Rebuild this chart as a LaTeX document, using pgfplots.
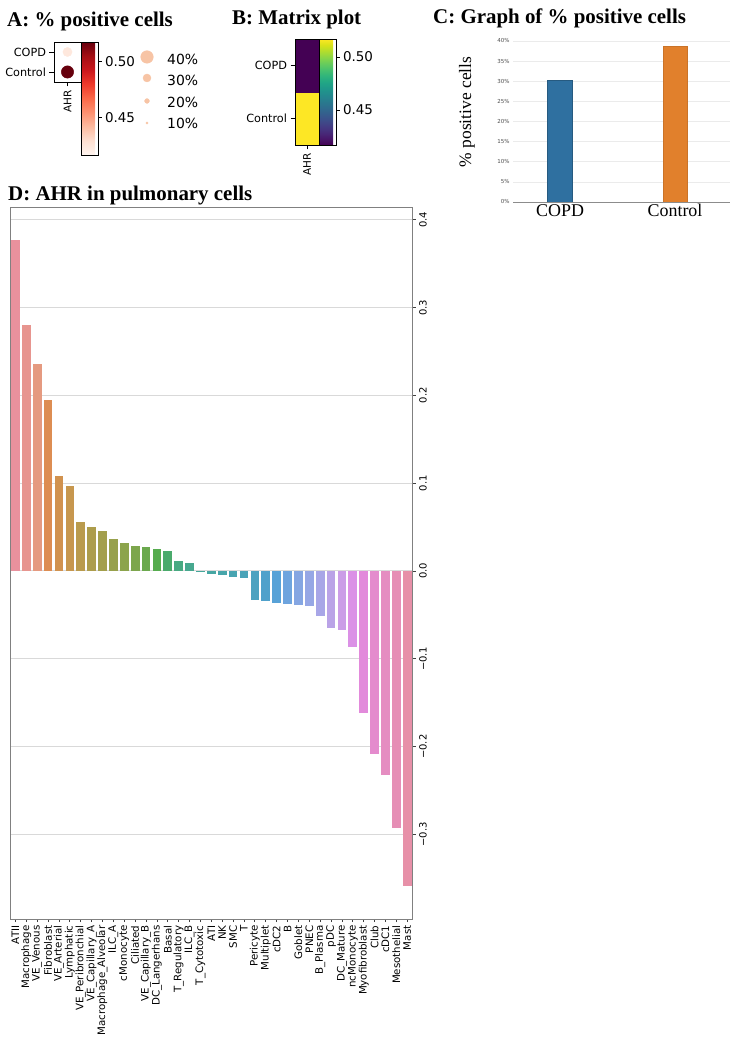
\documentclass[border=0pt]{standalone}
\usepackage{fontspec}
\setmainfont{Liberation Serif}
\setsansfont{DejaVu Sans}
\usepackage{pgfplots}
\pgfplotsset{compat=1.18}
\usepgfplotslibrary{patchplots}
\definecolor{peach}{RGB}{247,196,165}
\definecolor{copdblue}{RGB}{47,112,160}
\definecolor{ctrlorange}{RGB}{225,128,44}
\definecolor{d1}{RGB}{232,145,157}
\definecolor{d2}{RGB}{231,149,143}
\definecolor{d3}{RGB}{229,154,128}
\definecolor{d4}{RGB}{221,141,82}
\definecolor{d5}{RGB}{209,146,79}
\definecolor{d6}{RGB}{199,151,78}
\definecolor{d7}{RGB}{186,155,77}
\definecolor{d8}{RGB}{173,157,76}
\definecolor{d9}{RGB}{163,159,76}
\definecolor{d10}{RGB}{152,161,76}
\definecolor{d11}{RGB}{140,164,76}
\definecolor{d12}{RGB}{125,166,77}
\definecolor{d13}{RGB}{107,169,78}
\definecolor{d14}{RGB}{86,172,79}
\definecolor{d15}{RGB}{74,170,108}
\definecolor{d16}{RGB}{72,169,130}
\definecolor{d17}{RGB}{71,168,143}
\definecolor{d18}{RGB}{70,167,155}
\definecolor{d19}{RGB}{70,166,163}
\definecolor{d20}{RGB}{71,165,170}
\definecolor{d21}{RGB}{72,164,177}
\definecolor{d22}{RGB}{74,163,184}
\definecolor{d23}{RGB}{76,162,192}
\definecolor{d24}{RGB}{80,161,203}
\definecolor{d25}{RGB}{88,162,215}
\definecolor{d26}{RGB}{110,164,222}
\definecolor{d27}{RGB}{133,166,226}
\definecolor{d28}{RGB}{150,167,229}
\definecolor{d29}{RGB}{168,166,231}
\definecolor{d30}{RGB}{186,163,231}
\definecolor{d31}{RGB}{203,157,231}
\definecolor{d32}{RGB}{219,145,230}
\definecolor{d33}{RGB}{226,138,219}
\definecolor{d34}{RGB}{228,139,205}
\definecolor{d35}{RGB}{229,141,193}
\definecolor{d36}{RGB}{230,142,181}
\definecolor{d37}{RGB}{231,144,168}
\pgfplotsset{
  dbar/.style={ybar, bar width=0.8, bar shift=0pt, fill=#1, draw=none},
}
\begin{document}
\begin{tikzpicture}
\path[use as bounding box] (0,0) rectangle (743bp,1050bp);
% ---- titles ----
\node[anchor=base west, inner sep=0pt, font=\fontsize{21}{25}\selectfont\bfseries] at (7bp,1023bp) {A: \% positive cells};
\node[anchor=base west, inner sep=0pt, font=\fontsize{21}{25}\selectfont\bfseries] at (232bp,1025bp) {B: Matrix plot};
\node[anchor=base west, inner sep=0pt, font=\fontsize{21}{25}\selectfont\bfseries] at (433bp,1026bp) {C: Graph of \% positive cells};
\node[anchor=base west, inner sep=0pt, font=\fontsize{21}{25}\selectfont\bfseries] at (8bp,849bp) {D: AHR in pulmonary cells};

% ---- Panel A: dot plot ----
\begin{axis}[
  at={(54bp,968bp)}, anchor=south west, scale only axis,
  width=27bp, height=40bp,
  xmin=-0.5, xmax=0.5, ymin=-0.5, ymax=1.5,
  xtick={0}, xticklabels={AHR},
  ytick={0,1}, yticklabels={Control,COPD},
  xtick pos=bottom, ytick pos=left,
  tick align=outside, major tick length=4.5bp,
  tick style={black, line width=0.7bp},
  axis line style={black, line width=0.8bp},
  xticklabel style={rotate=90, anchor=east, font=\fontsize{10.5}{11}\sffamily},
  yticklabel style={font=\fontsize{11.3}{12}\sffamily},
  colormap={reds}{rgb255=(255,245,240) rgb255=(254,224,210) rgb255=(252,187,161) rgb255=(252,146,114) rgb255=(251,106,74) rgb255=(239,59,44) rgb255=(203,24,29) rgb255=(165,15,21) rgb255=(103,0,13)},
  point meta min=0.417, point meta max=0.517,
  colorbar,
  colorbar shift/.style={},
  colorbar style={at={(parent axis.north east)}, anchor=north west, xshift=0pt,
     scale only axis, width=17bp, height=113bp,
     ytick={0.45,0.50}, yticklabels={0.45,0.50},
     ytick pos=right, yticklabel pos=right,
     yticklabel style={font=\fontsize{13.5}{15}\sffamily},
     tick align=outside, major tick length=3.5bp,
     tick style={black, line width=0.7bp},
     axis line style={black, line width=0.8bp}},
]
\addplot[scatter, only marks, mark=*, mark size=4.6bp, point meta=explicit,
  scatter/use mapped color={draw=mapped color, fill=mapped color}] coordinates {(0,1) [0.425]};
\addplot[scatter, only marks, mark=*, mark size=6.2bp, point meta=explicit,
  scatter/use mapped color={draw=mapped color, fill=mapped color}] coordinates {(0,0) [0.517]};
\end{axis}

% size legend for A
\begin{axis}[
  at={(142bp,920bp)}, anchor=south west, scale only axis,
  width=10bp, height=85bp, xmin=-1, xmax=1, ymin=-130, ymax=-45,
  hide axis, clip=false]
\addplot[only marks, mark=*, mark size=6.3bp, color=peach] coordinates {(0,-57)};
\addplot[only marks, mark=*, mark size=4bp, color=peach] coordinates {(0,-78)};
\addplot[only marks, mark=*, mark size=2.4bp, color=peach] coordinates {(0,-101)};
\addplot[only marks, mark=*, mark size=1.1bp, color=peach] coordinates {(0,-123)};
\node[anchor=west, inner sep=0pt, font=\fontsize{14}{15}\sffamily] at (axis cs:0,-59) [xshift=20bp] {40\%};
\node[anchor=west, inner sep=0pt, font=\fontsize{14}{15}\sffamily] at (axis cs:0,-80) [xshift=20bp] {30\%};
\node[anchor=west, inner sep=0pt, font=\fontsize{14}{15}\sffamily] at (axis cs:0,-102) [xshift=20bp] {20\%};
\node[anchor=west, inner sep=0pt, font=\fontsize{14}{15}\sffamily] at (axis cs:0,-123) [xshift=20bp] {10\%};
\end{axis}

% ---- Panel B: matrix plot ----
\begin{axis}[
  at={(295bp,905bp)}, anchor=south west, scale only axis,
  width=24bp, height=106bp,
  xmin=-0.5, xmax=0.5, ymin=-0.5, ymax=1.5,
  xtick={0}, xticklabels={AHR},
  ytick={0,1}, yticklabels={Control,COPD},
  xtick pos=bottom, ytick pos=left,
  tick align=outside, major tick length=4.5bp,
  tick style={black, line width=0.7bp},
  axis line style={black, line width=0.8bp},
  axis on top,
  xticklabel style={rotate=90, anchor=east, font=\fontsize{10.5}{11}\sffamily},
  yticklabel style={font=\fontsize{11.3}{12}\sffamily},
  colormap/viridis,
  point meta min=0.417, point meta max=0.517,
  colorbar,
  colorbar shift/.style={},
  colorbar style={at={(parent axis.north east)}, anchor=north west, xshift=0pt,
     scale only axis, width=17bp, height=106bp,
     ytick={0.45,0.50}, yticklabels={0.45,0.50},
     ytick pos=right, yticklabel pos=right,
     yticklabel style={font=\fontsize{13.5}{15}\sffamily},
     tick align=outside, major tick length=3.5bp,
     tick style={black, line width=0.7bp},
     axis line style={black, line width=0.8bp}},
]
\addplot[patch, patch type=rectangle, shader=flat, point meta=explicit] coordinates {
  (-0.5,-0.5) [0.517] (0.5,-0.5) [0.517] (0.5,0.5) [0.517] (-0.5,0.5) [0.517]
  (-0.5,0.5) [0.417] (0.5,0.5) [0.417] (0.5,1.5) [0.417] (-0.5,1.5) [0.417]
};
\end{axis}

% ---- Panel C: bar graph ----
\begin{axis}[
  at={(513bp,848bp)}, anchor=south west, scale only axis,
  width=217bp, height=163bp,
  xmin=-0.409, xmax=1.478, ymin=0, ymax=40.5,
  xtick={0,1}, xticklabels={COPD,Control},
  ytick={0,5,10,15,20,25,30,35,40},
  yticklabels={0\%,5\%,10\%,15\%,20\%,25\%,30\%,35\%,40\%},
  axis x line*=bottom, axis y line*=left,
  y axis line style={draw=none},
  x axis line style={draw=black!45, line width=0.8bp},
  major tick length=0pt,
  ymajorgrids, grid style={color=black!8, line width=0.6bp},
  xticklabel style={font=\fontsize{18}{20}\selectfont\rmfamily, yshift=1bp},
  yticklabel style={font=\fontsize{5.5}{6}\sffamily, text=black!70},
]
\addplot[ybar, bar width=25bp, bar shift=0pt, fill=copdblue, draw=copdblue!80!black] coordinates {(0,30.3)};
\addplot[ybar, bar width=24bp, bar shift=0pt, fill=ctrlorange, draw=ctrlorange!90!black] coordinates {(1,38.8)};
\end{axis}
\node[rotate=90, inner sep=0pt, font=\fontsize{17.5}{20}\selectfont] at (467bp,938bp) {\% positive cells};

% ---- Panel D: AHR in pulmonary cells ----
\begin{axis}[
  at={(10bp,131bp)}, anchor=south west, scale only axis,
  width=402.7bp, height=711bp,
  xmin=-0.5, xmax=36.5, ymin=-0.39636, ymax=0.41344,
  xtick={0,...,36},
  xticklabels={ATII,Macrophage,VE\_Venous,Fibroblast,VE\_Arterial,Lymphatic,VE\_Peribronchial,VE\_Capillary\_A,Macrophage\_Alveolar,ILC\_A,cMonocyte,Ciliated,VE\_Capillary\_B,DC\_Langerhans,Basal,T\_Regulatory,ILC\_B,T\_Cytotoxic,ATI,NK,SMC,T,Pericyte,Multiplet,cDC2,B,Goblet,PNEC,B\_Plasma,pDC,DC\_Mature,ncMonocyte,Myofibroblast,Club,cDC1,Mesothelial,Mast},
  ytick={-0.3,-0.2,-0.1,0,0.1,0.2,0.3,0.4},
  yticklabels={−0.3,−0.2,−0.1,0.0,0.1,0.2,0.3,0.4},
  xtick pos=bottom, ytick pos=right, yticklabel pos=right,
  tick align=outside, major tick length=3bp,
  tick style={black!75, line width=0.8bp},
  ymajorgrids, grid style={color=black!15, line width=1bp},
  axis line style={color=black!50, line width=1bp},
  xticklabel style={rotate=90, anchor=east, font=\fontsize{10.3}{11}\sffamily},
  yticklabel style={rotate=90, anchor=north, font=\fontsize{10}{11}\sffamily},
]
\addplot[dbar=d1] coordinates {(0,0.3767)};
\addplot[dbar=d2] coordinates {(1,0.2799)};
\addplot[dbar=d3] coordinates {(2,0.2362)};
\addplot[dbar=d4] coordinates {(3,0.1952)};
\addplot[dbar=d5] coordinates {(4,0.1086)};
\addplot[dbar=d6] coordinates {(5,0.0972)};
\addplot[dbar=d7] coordinates {(6,0.0554)};
\addplot[dbar=d8] coordinates {(7,0.0505)};
\addplot[dbar=d9] coordinates {(8,0.0452)};
\addplot[dbar=d10] coordinates {(9,0.0365)};
\addplot[dbar=d11] coordinates {(10,0.0315)};
\addplot[dbar=d12] coordinates {(11,0.0285)};
\addplot[dbar=d13] coordinates {(12,0.0273)};
\addplot[dbar=d14] coordinates {(13,0.0254)};
\addplot[dbar=d15] coordinates {(14,0.0228)};
\addplot[dbar=d16] coordinates {(15,0.0110)};
\addplot[dbar=d17] coordinates {(16,0.0091)};
\addplot[dbar=d18] coordinates {(17,-0.0015)};
\addplot[dbar=d19] coordinates {(18,-0.0034)};
\addplot[dbar=d20] coordinates {(19,-0.0050)};
\addplot[dbar=d21] coordinates {(20,-0.0068)};
\addplot[dbar=d22] coordinates {(21,-0.0083)};
\addplot[dbar=d23] coordinates {(22,-0.0326)};
\addplot[dbar=d24] coordinates {(23,-0.0345)};
\addplot[dbar=d25] coordinates {(24,-0.0367)};
\addplot[dbar=d26] coordinates {(25,-0.0371)};
\addplot[dbar=d27] coordinates {(26,-0.0386)};
\addplot[dbar=d28] coordinates {(27,-0.0402)};
\addplot[dbar=d29] coordinates {(28,-0.0511)};
\addplot[dbar=d30] coordinates {(29,-0.0648)};
\addplot[dbar=d31] coordinates {(30,-0.0667)};
\addplot[dbar=d32] coordinates {(31,-0.0867)};
\addplot[dbar=d33] coordinates {(32,-0.1614)};
\addplot[dbar=d34] coordinates {(33,-0.2080)};
\addplot[dbar=d35] coordinates {(34,-0.2326)};
\addplot[dbar=d36] coordinates {(35,-0.2924)};
\addplot[dbar=d37] coordinates {(36,-0.3588)};
\end{axis}
\end{tikzpicture}
\end{document}
